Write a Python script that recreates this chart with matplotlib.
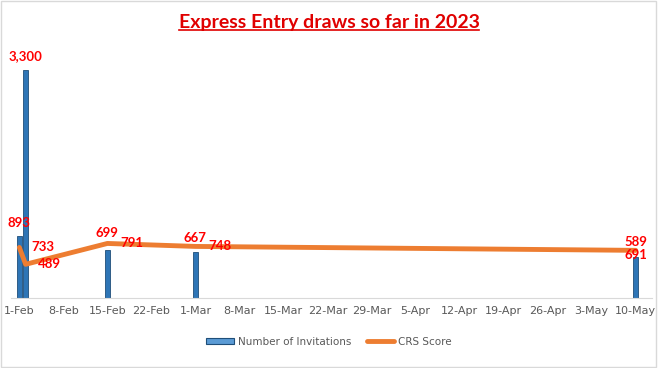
import matplotlib
matplotlib.use("Agg")
import matplotlib.pyplot as plt
import matplotlib.dates as mdates
import pandas as pd
from matplotlib.patches import Rectangle
from matplotlib.lines import Line2D

draw_dates = ["2023-02-01", "2023-02-02", "2023-02-15", "2023-03-01", "2023-05-10"]
invitations = [893, 3300, 699, 667, 589]
crs_scores = [733, 489, 791, 748, 691]
tick_dates = pd.date_range("2023-02-01", "2023-05-10", freq="7D")
title = "Express Entry draws so far in 2023"

# label placement offsets (points)
bar_label_offsets = [(0, 10), (0, 10), (0, 12), (0, 10), (0, 11)]
line_label_offsets = [(9, 0), (9, 0), (9, 0), (9, 0), (0, -3)]
line_label_ha = ["left", "left", "left", "left", "center"]

dates = pd.to_datetime(draw_dates)

fig = plt.figure(figsize=(6.58, 3.68), dpi=100)
fig.patch.set_facecolor("white")
fig.add_artist(Rectangle((0.002, 0.003), 0.995, 0.993, transform=fig.transFigure,
                         fill=False, edgecolor="#d9d9d9", linewidth=1))
ax = fig.add_axes([0.016, 0.19, 0.975, 0.67])

ax.bar(dates, invitations, width=0.8, color="#2E75B6", edgecolor="#1F4E79",
       linewidth=0.6, zorder=2)
ax.plot(dates, crs_scores, color="#ED7D31", linewidth=3.5, solid_capstyle="round",
        zorder=3)

lab_font = dict(color="#FF0000", fontsize=9.5, fontweight="bold", family="Lato")
for d, v, off in zip(dates, invitations, bar_label_offsets):
    ax.annotate(f"{v:,}", (d, v), xytext=off, textcoords="offset points",
                ha="center", va="center", zorder=5, **lab_font)
for d, v, off, ha in zip(dates, crs_scores, line_label_offsets, line_label_ha):
    ax.annotate(f"{v:,}", (d, v), xytext=off, textcoords="offset points",
                ha=ha, va="center", zorder=5, **lab_font)

ax.set_xlim(dates[0] - pd.Timedelta(days=1.4), dates[-1] + pd.Timedelta(days=2.6))
ax.set_ylim(0, 3570)
ax.set_xticks(tick_dates)
ax.xaxis.set_major_formatter(mdates.DateFormatter("%-d-%b"))
ax.tick_params(axis="x", length=0, labelsize=8, labelcolor="#595959", pad=6)
ax.set_yticks([])
for s in ["top", "left", "right"]:
    ax.spines[s].set_visible(False)
ax.spines["bottom"].set_color("#d9d9d9")

t = fig.text(0.5, 0.915, title, ha="center", va="bottom", color="#E00000",
             fontsize=14, fontweight="bold", family="Lato")
fig.canvas.draw()
bb = t.get_window_extent()
inv = fig.transFigure.inverted()
(x0, y0), (x1, y1) = inv.transform([(bb.x0, bb.y0), (bb.x1, bb.y1)])
fig.add_artist(Line2D([x0, x1], [y0 + 0.003, y0 + 0.003], transform=fig.transFigure,
                      color="#E00000", linewidth=1.2))

handles = [Rectangle((0, 0), 1, 1, facecolor="#5B9BD5", edgecolor="#1F4E79", linewidth=0.8),
           Line2D([], [], color="#ED7D31", linewidth=3.5, solid_capstyle="round")]
leg = fig.legend(handles, ["Number of Invitations", "CRS Score"], loc="center",
                 bbox_to_anchor=(0.5, 0.072), ncol=2, frameon=False,
                 fontsize=7.5, handlelength=2.6, handleheight=0.45,
                 handletextpad=0.4, columnspacing=1.5)
for txt in leg.get_texts():
    txt.set_color("#595959")

fig.savefig("out.png", dpi=100)
